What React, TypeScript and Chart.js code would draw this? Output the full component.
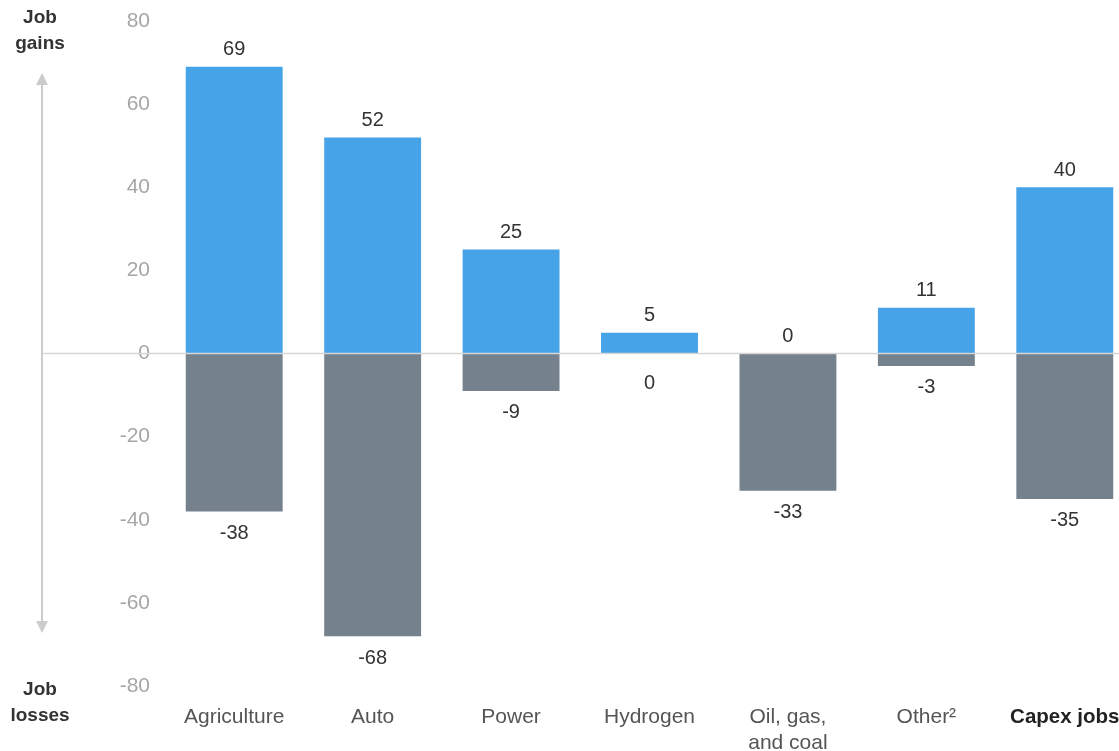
import React, { useEffect, useRef } from "react";
import { Chart, registerables } from "chart.js";

Chart.register(...registerables);

const categories: (string | string[])[] = [
  "Agriculture",
  "Auto",
  "Power",
  "Hydrogen",
  ["Oil, gas,", "and coal"],
  "Other²",
  "Capex jobs",
];
const jobGains = [69, 52, 25, 5, 0, 11, 40];
const jobLosses = [-38, -68, -9, 0, -33, -3, -35];
const yMin = -80;
const yMax = 80;
const yStep = 20;

const FONT = '"Liberation Sans", Arial, sans-serif';
const BLUE = "#46A3E8";
const GREY = "#75828E";

const decorPlugin = {
  id: "decor",
  afterDatasetsDraw(chart: any) {
    const { ctx } = chart;
    const y = chart.scales.y;
    const y0 = y.getPixelForValue(0);
    ctx.save();
    // zero line
    ctx.strokeStyle = "#d6d6d6";
    ctx.lineWidth = 1.5;
    ctx.beginPath();
    ctx.moveTo(43, y0);
    ctx.lineTo(chart.width, y0);
    ctx.stroke();

    // value labels
    ctx.font = `20px ${FONT}`;
    ctx.fillStyle = "#333333";
    ctx.textAlign = "center";
    ctx.textBaseline = "middle";
    const gMeta = chart.getDatasetMeta(0);
    gMeta.data.forEach((bar: any, i: number) => {
      const top = y.getPixelForValue(jobGains[i]);
      ctx.fillText(String(jobGains[i]), bar.x, top - 17);
    });
    const lMeta = chart.getDatasetMeta(1);
    lMeta.data.forEach((bar: any, i: number) => {
      const bottom = y.getPixelForValue(jobLosses[i]);
      ctx.fillText(String(jobLosses[i]), bar.x, bottom + (jobLosses[i] === 0 ? 30 : 22));
    });

    // side labels
    ctx.font = `bold 19px ${FONT}`;
    ctx.fillStyle = "#333333";
    ctx.fillText("Job", 40, 18);
    ctx.fillText("gains", 40, 44);
    ctx.fillText("Job", 40, 690);
    ctx.fillText("losses", 40, 716);

    // arrow
    const ax = 42;
    ctx.strokeStyle = "#cccccc";
    ctx.fillStyle = "#cccccc";
    ctx.lineWidth = 2;
    ctx.beginPath();
    ctx.moveTo(ax, 82);
    ctx.lineTo(ax, 624);
    ctx.stroke();
    ctx.beginPath();
    ctx.moveTo(ax, 73);
    ctx.lineTo(ax - 6, 85);
    ctx.lineTo(ax + 6, 85);
    ctx.closePath();
    ctx.fill();
    ctx.beginPath();
    ctx.moveTo(ax, 633);
    ctx.lineTo(ax - 6, 621);
    ctx.lineTo(ax + 6, 621);
    ctx.closePath();
    ctx.fill();
    ctx.restore();
  },
};

export default function App() {
  const ref = useRef<HTMLCanvasElement>(null);
  useEffect(() => {
    if (!ref.current) return;
    const chart = new Chart(ref.current, {
      type: "bar",
      data: {
        labels: categories,
        datasets: [
          {
            label: "Job gains",
            data: jobGains,
            backgroundColor: BLUE,
            borderWidth: 0,
            barPercentage: 0.7,
            categoryPercentage: 1,
          },
          {
            label: "Job losses",
            data: jobLosses,
            backgroundColor: GREY,
            borderWidth: 0,
            barPercentage: 0.7,
            categoryPercentage: 1,
          },
        ],
      },
      options: {
        responsive: false,
        animation: false,
        devicePixelRatio: 1,
        layout: { padding: { top: 21, bottom: 0, left: 0, right: 0 } },
        plugins: {
          legend: { display: false },
          tooltip: { enabled: false },
        },
        scales: {
          x: {
            stacked: true,
            grid: { display: false },
            border: { display: false },
            afterFit: (s: any) => {
              s.height = 65;
            },
            ticks: {
              padding: 11,
              autoSkip: false,
              maxRotation: 0,
              color: (c: any) => (c.index === 6 ? "#222222" : "#555555"),
              font: (c: any) =>
                c.index === 6
                  ? { family: FONT, size: 20.5, weight: "bold", lineHeight: 1.2 }
                  : { family: FONT, size: 21, lineHeight: 1.2 },
            },
          },
          y: {
            stacked: true,
            min: yMin,
            max: yMax,
            grid: {
              display: true,
              drawOnChartArea: false,
              drawTicks: true,
              tickLength: 8,
              color: "rgba(0,0,0,0)",
              tickColor: "rgba(0,0,0,0)",
            },
            border: { display: false },
            afterFit: (s: any) => {
              s.width = 165;
            },
            ticks: {
              stepSize: yStep,
              padding: 7,
              color: "#a6a6a6",
              font: { family: FONT, size: 21 },
            },
          },
        },
      },
      plugins: [decorPlugin],
    });
    return () => chart.destroy();
  }, []);
  return (
    <div
      style={{
        position: "fixed",
        left: 0,
        top: 0,
        width: 1119,
        height: 751,
        overflow: "hidden",
        background: "#ffffff",
      }}
    >
      <canvas ref={ref} width={1134} height={751} style={{ display: "block" }} />
    </div>
  );
}
